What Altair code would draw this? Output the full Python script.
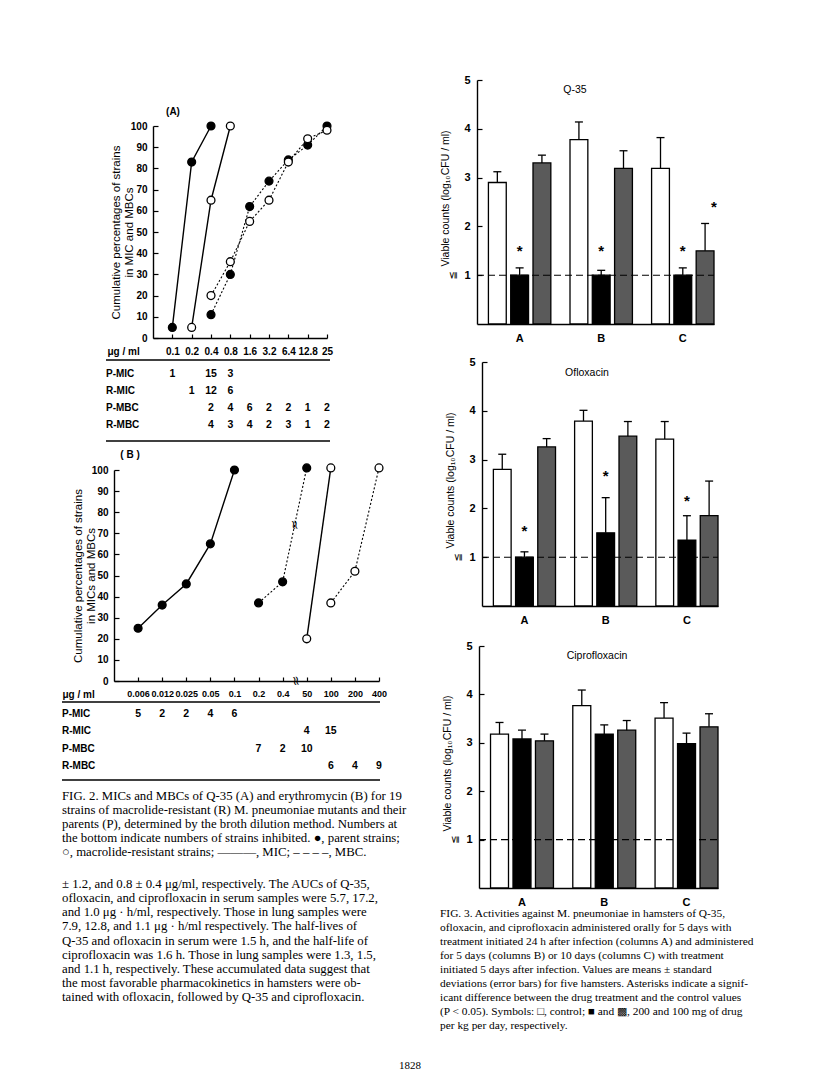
import json
import altair as alt
import pandas as pd

# ---------------- Fig. 2 (A): Q-35 ----------------
A_CONC = ["0.1", "0.2", "0.4", "0.8", "1.6", "3.2", "6.4", "12.8", "25"]
A_PMIC_X = ["0.1", "0.2", "0.4"]
A_PMIC_Y = [5, 83, 100]
A_RMIC_X = ["0.2", "0.4", "0.8"]
A_RMIC_Y = [5, 65, 100]
A_PMBC_X = ["0.4", "0.8", "1.6", "3.2", "6.4", "12.8", "25"]
A_PMBC_Y = [11, 30, 62, 74, 84, 91, 100]
A_RMBC_X = ["0.4", "0.8", "1.6", "3.2", "6.4", "12.8", "25"]
A_RMBC_Y = [20, 36, 55, 65, 83, 94, 98]
TABLE_ROWS = ["P-MIC", "R-MIC", "P-MBC", "R-MBC"]
A_P_MIC = {"0.1": 1, "0.4": 15, "0.8": 3}
A_R_MIC = {"0.2": 1, "0.4": 12, "0.8": 6}
A_P_MBC = {"0.4": 2, "0.8": 4, "1.6": 6, "3.2": 2, "6.4": 2, "12.8": 1, "25": 2}
A_R_MBC = {"0.4": 4, "0.8": 3, "1.6": 4, "3.2": 2, "6.4": 3, "12.8": 1, "25": 2}

# ---------------- Fig. 2 (B): erythromycin ----------------
B_CONC = ["0.006", "0.012", "0.025", "0.05", "0.1", "0.2", "0.4", "50", "100", "200", "400"]
B_PMIC_X = ["0.006", "0.012", "0.025", "0.05", "0.1"]
B_PMIC_Y = [25, 36, 46, 65, 100]
B_PMBC_X = ["0.2", "0.4", "50"]
B_PMBC_Y = [37, 47, 101]
B_RMIC_X = ["50", "100"]
B_RMIC_Y = [20, 101]
B_RMBC_X = ["100", "200", "400"]
B_RMBC_Y = [37, 52, 101]
B_P_MIC = {"0.006": 5, "0.012": 2, "0.025": 2, "0.05": 4, "0.1": 6}
B_R_MIC = {"50": 4, "100": 15}
B_P_MBC = {"0.2": 7, "0.4": 2, "50": 10}
B_R_MBC = {"100": 6, "200": 4, "400": 9}

# ---------------- Fig. 3 ----------------
GROUPS = ["A", "B", "C"]
TREAT = ["control", "200 mg/kg/day", "100 mg/kg/day"]
Q35_MEAN = [[2.90, 1.00, 3.30], [3.78, 1.00, 3.19], [3.19, 1.00, 1.50]]
Q35_UP = [[3.12, 1.15, 3.46], [4.14, 1.10, 3.55], [3.82, 1.15, 2.06]]
Q35_STAR = [("A", "200 mg/kg/day", 1.58), ("B", "200 mg/kg/day", 1.58),
            ("C", "200 mg/kg/day", 1.58), ("C", "100 mg/kg/day", 2.47)]
OFL_MEAN = [[2.80, 1.00, 3.26], [3.79, 1.50, 3.48], [3.42, 1.35, 1.85]]
OFL_UP = [[3.11, 1.11, 3.43], [4.01, 2.22, 3.78], [3.78, 1.85, 2.56]]
OFL_STAR = [("A", "200 mg/kg/day", 1.61), ("B", "200 mg/kg/day", 2.75),
            ("C", "200 mg/kg/day", 2.24)]
CIP_MEAN = [[3.18, 3.08, 3.04], [3.77, 3.18, 3.26], [3.51, 2.98, 3.33]]
CIP_UP = [[3.42, 3.26, 3.18], [4.09, 3.37, 3.46], [3.83, 3.20, 3.60]]
CIP_STAR = []

# ---------------- text ----------------
CAP2 = [
    "\u2003FIG. 2. MICs and MBCs of Q-35 (A) and erythromycin (B) for 19",
    "strains of macrolide-resistant (R) M. pneumoniae mutants and their",
    "parents (P), determined by the broth dilution method. Numbers at",
    "the bottom indicate numbers of strains inhibited. \u25cf, parent strains;",
    "\u25cb, macrolide-resistant strains; \u2014\u2014\u2014, MIC; \u2013 \u2013 \u2013 \u2013, MBC.",
]
BODY = [
    "\u00b1 1.2, and 0.8 \u00b1 0.4 \u03bcg/ml, respectively. The AUCs of Q-35,",
    "ofloxacin, and ciprofloxacin in serum samples were 5.7, 17.2,",
    "and 1.0 \u03bcg \u00b7 h/ml, respectively. Those in lung samples were",
    "7.9, 12.8, and 1.1 \u03bcg \u00b7 h/ml respectively. The half-lives of",
    "Q-35 and ofloxacin in serum were 1.5 h, and the half-life of",
    "ciprofloxacin was 1.6 h. Those in lung samples were 1.3, 1.5,",
    "and 1.1 h, respectively. These accumulated data suggest that",
    "the most favorable pharmacokinetics in hamsters were ob-",
    "tained with ofloxacin, followed by Q-35 and ciprofloxacin.",
]
CAP3 = [
    "\u2003FIG. 3. Activities against M. pneumoniae in hamsters of Q-35,",
    "ofloxacin, and ciprofloxacin administered orally for 5 days with",
    "treatment initiated 24 h after infection (columns A) and administered",
    "for 5 days (columns B) or 10 days (columns C) with treatment",
    "initiated 5 days after infection. Values are means \u00b1 standard",
    "deviations (error bars) for five hamsters. Asterisks indicate a signif-",
    "icant difference between the drug treatment and the control values",
    "(P < 0.05). Symbols: \u25a1, control; \u25a0 and \u25a9, 200 and 100 mg of drug",
    "per kg per day, respectively.",
]
PAGE_NO = "1828"

# ---------------- layout ----------------
W, H = 800, 1073
M = 8
SANS = "'Liberation Sans', Arial, Helvetica, sans-serif"
SERIF = "'Liberation Serif', 'Times New Roman', serif"
FILLS = ["white", "black", "#5a5a5a"]


def px(v):
    return v - M


def py(v):
    return v - M


def q(domain, rng, zero=False):
    return alt.Scale(domain=domain, range=rng, nice=False, zero=zero)


layers = []


def fig2(conc, series, tables, g):
    n = len(conc)
    xs = q([0, n], [px(g["ax"]), px(g["xend"])])
    ys = q([0, 100], [py(g["y0"]), py(g["y100"])])
    rows = []
    for name, cx, cy, kind, fill in series:
        for c, v in zip(cx, cy):
            rows.append(dict(series=name, idx=conc.index(c) + 1, pct=v, kind=kind, fill=fill))
    df = pd.DataFrame(rows)
    label_expr = json.dumps([""] + conc) + "[datum.value]"
    ticks_vals = list(range(1, n + 1))
    x_bottom = alt.Axis(orient="bottom", offset=py(g["y0"]) - H, values=ticks_vals,
                        labelExpr=label_expr, ticks=False, tickSize=0, domain=True,
                        domainColor="black", domainWidth=1.4, labelPadding=8,
                        labelFont=SANS, labelFontSize=g["xfs"], labelFontWeight="bold",
                        labelColor="black", labelFlush=False, labelOverlap=False,
                        title="\u03bcg / ml", titleX=px(g["unit_x"]), titleY=g["unit_y"] - g["y0"],
                        titleAlign="left", titleBaseline="middle", titleAngle=0,
                        titleFont=SANS, titleFontSize=10, titleFontWeight="bold",
                        titleColor="black", grid=False)
    x_top = alt.Axis(orient="top", offset=-py(g["y0"]), values=ticks_vals, ticks=True,
                     tickSize=4, tickColor="black", tickWidth=1.2, labels=False,
                     domain=False, title=None, grid=False)
    yvals = list(range(0, 101, 10))
    y_left = alt.Axis(orient="left", offset=-px(g["ax"]), values=yvals, ticks=False,
                      tickSize=0, domain=True, domainColor="black", domainWidth=1.4,
                      labelPadding=6, labelFont=SANS, labelFontSize=10,
                      labelFontWeight="bold", labelColor="black", labelFlush=False,
                      labelOverlap=False, title=g["ytitle"], titleX=g["title_cx"] - g["ax"],
                      titleBaseline="middle", titleLineHeight=13, titleFont=SANS,
                      titleFontSize=11.5, titleFontWeight="normal", titleColor="black",
                      grid=False)
    y_right = alt.Axis(orient="right", offset=px(g["ax"]) - W, values=yvals, ticks=True,
                       tickSize=5, tickColor="black", tickWidth=1.2, labels=False,
                       domain=False, title=None, grid=False)
    base = alt.Chart(df)
    layers.append(base.transform_filter(alt.datum.kind == "MIC").mark_line(
        color="black", strokeWidth=1.4).encode(
        x=alt.X("idx:Q", scale=xs, axis=x_bottom),
        y=alt.Y("pct:Q", scale=ys, axis=y_left), detail="series:N"))
    layers.append(base.transform_filter(alt.datum.kind == "MBC").mark_line(
        color="black", strokeWidth=1.1, strokeDash=[2, 2]).encode(
        x=alt.X("idx:Q", scale=xs, axis=x_top),
        y=alt.Y("pct:Q", scale=ys, axis=y_right), detail="series:N"))
    for f, col in (("P", "black"), ("R", "white")):
        layers.append(base.transform_filter(alt.datum.fill == f).mark_point(
            shape="circle", filled=True, fill=col, stroke="black", strokeWidth=1.3,
            size=62, opacity=1).encode(
            x=alt.X("idx:Q", scale=xs, axis=None), y=alt.Y("pct:Q", scale=ys, axis=None)))
    # break marks
    if g.get("breaks"):
        bdf = pd.DataFrame(g["breaks"], columns=["idx", "pct"])
        layers.append(alt.Chart(bdf).mark_text(text="\u2248", angle=80, fontSize=13,
                                               font="DejaVu Sans", color="black",
                                               fill="black", baseline="middle").encode(
            x=alt.X("idx:Q", scale=xs, axis=None), y=alt.Y("pct:Q", scale=ys, axis=None)))
    # table of counts
    trows = []
    for r_i, (rname, tab) in enumerate(zip(TABLE_ROWS, tables)):
        for c, cnt in tab.items():
            trows.append(dict(row=r_i, idx=conc.index(c) + 1, count=str(cnt)))
    ty = q([0, 3], [py(g["row_y"][0]), py(g["row_y"][1])])
    layers.append(alt.Chart(pd.DataFrame(trows)).mark_text(
        font=SANS, fontSize=10.5, fontWeight="bold", color="black", baseline="middle").encode(
        x=alt.X("idx:Q", scale=xs, axis=None), y=alt.Y("row:Q", scale=ty, axis=None),
        text="count:N"))
    layers.append(alt.Chart(pd.DataFrame({"row": list(range(4)), "lab": TABLE_ROWS})).mark_text(
        font=SANS, fontSize=10, fontWeight="bold", color="black", baseline="middle",
        align="left").encode(
        x=alt.value(px(g["lab_x"])), y=alt.Y("row:Q", scale=ty, axis=None), text="lab:N"))
    for x0, x1, yy in g["rules"]:
        layers.append(alt.Chart(pd.DataFrame({"k": [0]})).mark_rule(
            color="black", strokeWidth=1.3).encode(
            x=alt.value(px(x0)), x2=alt.value(px(x1)), y=alt.value(py(yy))))
    layers.append(alt.Chart(pd.DataFrame({"t": [g["label"]]})).mark_text(
        font=SANS, fontSize=10, fontWeight="bold", color="black", baseline="middle").encode(
        x=alt.value(px(g["label_xy"][0])), y=alt.value(py(g["label_xy"][1])), text="t:N"))


fig2(A_CONC,
     [("P-MIC", A_PMIC_X, A_PMIC_Y, "MIC", "P"), ("R-MIC", A_RMIC_X, A_RMIC_Y, "MIC", "R"),
      ("P-MBC", A_PMBC_X, A_PMBC_Y, "MBC", "P"), ("R-MBC", A_RMBC_X, A_RMBC_Y, "MBC", "R")],
     [A_P_MIC, A_R_MIC, A_P_MBC, A_R_MBC],
     dict(ax=153, xend=327, y0=338, y100=126, row_y=(374, 425), xfs=10,
          rules=[(106, 330, 360), (106, 330, 441)], lab_x=106, unit_x=107, unit_y=351,
          label="(A)", label_xy=(173, 112),
          ytitle=["Cumulative percentages of strains", "in MIC and MBCs"], title_cx=116))

fig2(B_CONC,
     [("P-MIC", B_PMIC_X, B_PMIC_Y, "MIC", "P"), ("R-MIC", B_RMIC_X, B_RMIC_Y, "MIC", "R"),
      ("P-MBC", B_PMBC_X, B_PMBC_Y, "MBC", "P"), ("R-MBC", B_RMBC_X, B_RMBC_Y, "MBC", "R")],
     [B_P_MIC, B_R_MIC, B_P_MBC, B_R_MBC],
     dict(ax=114, xend=379, y0=681, y100=470, row_y=(714, 766), xfs=9,
          rules=[(62, 380, 702), (62, 380, 780)], lab_x=62, unit_x=62, unit_y=694,
          label="( B )", label_xy=(130, 455), breaks=[(7.5, 74), (7.55, 0)],
          ytitle=["Cumulative percentages of strains", "in MICs and MBCs"], title_cx=78))


def fig3(name, means, ups, stars, g):
    xs = alt.Scale(domain=GROUPS, range=[px(g["ax"]), px(g["xend"])],
                   paddingInner=0.235, paddingOuter=0.07, align=1)
    ys = q([0, 5], [py(g["y0"]), py(g["y5"])], zero=True)
    xo = alt.Scale(domain=TREAT, paddingInner=0.2, paddingOuter=0)
    rows = []
    for gi, grp in enumerate(GROUPS):
        for ti, tr in enumerate(TREAT):
            rows.append(dict(group=grp, treat=tr, mean=means[gi][ti], upper=ups[gi][ti]))
    df = pd.DataFrame(rows)
    x_axis = alt.Axis(orient="bottom", offset=py(g["y0"]) - H, ticks=False, tickSize=0,
                      domain=True, domainColor="black", domainWidth=1.4, labelAngle=0,
                      labelPadding=8, labelFont=SANS, labelFontSize=11,
                      labelFontWeight="bold", labelColor="black", title=None, grid=False)
    y_axis = alt.Axis(orient="left", offset=-px(g["ax"]), values=[1, 2, 3, 4, 5],
                      ticks=False, tickSize=0, domain=True, domainColor="black",
                      domainWidth=1.4, labelPadding=7, labelFont=SANS, labelFontSize=11,
                      labelFontWeight="bold", labelColor="black", labelFlush=False,
                      title="Viable counts (log\u2081\u2080CFU / ml)", titleX=-32,
                      titleY=(g["y0"] + g["y5"]) / 2 - M - 4,
                      titleBaseline="middle", titleFont=SANS, titleFontSize=10.5,
                      titleFontWeight="normal", titleColor="black", grid=False)
    y_ticks = alt.Axis(orient="right", offset=px(g["ax"]) - W, values=[1, 2, 3, 4, 5],
                       ticks=True, tickSize=5, tickColor="black", tickWidth=1.2,
                       labels=False, domain=False, title=None, grid=False)

    def X(ax):
        return alt.X("group:N", scale=xs, axis=ax, sort=GROUPS)

    XO = alt.XOffset("treat:N", scale=xo, sort=TREAT)
    base = alt.Chart(df)
    layers.append(base.mark_bar(stroke="black", strokeWidth=1.3).encode(
        x=X(x_axis), xOffset=XO, y=alt.Y("mean:Q", scale=ys, axis=y_axis),
        y2=alt.datum(0),
        fill=alt.Fill("treat:N", scale=alt.Scale(domain=TREAT, range=FILLS), legend=None)))
    layers.append(base.mark_rule(color="black", strokeWidth=1.3).encode(
        x=X(None), xOffset=XO, y=alt.Y("mean:Q", scale=ys, axis=y_ticks), y2="upper:Q"))
    layers.append(base.mark_tick(orient="horizontal", size=8, thickness=1.3,
                                 color="black", opacity=1).encode(
        x=X(None), xOffset=XO, y=alt.Y("upper:Q", scale=ys, axis=None)))
    layers.append(alt.Chart(pd.DataFrame({"a": [0], "b": [1], "v": [1]})).mark_rule(
        color="black", strokeWidth=1.1, strokeDash=[7, 4]).encode(
        x=alt.X("a:Q", scale=q([0, 1], [px(g["ax"]), px(g["xend"])]), axis=None),
        x2="b:Q", y=alt.Y("v:Q", scale=ys, axis=None)))
    if stars:
        sdf = pd.DataFrame([dict(group=a, treat=b, v=c) for a, b, c in stars])
        layers.append(alt.Chart(sdf).mark_text(
            text="*", font=SANS, fontSize=15, fontWeight="bold", color="black",
            baseline="middle", dy=4).encode(
            x=X(None), xOffset=XO, y=alt.Y("v:Q", scale=ys, axis=None)))
    layers.append(alt.Chart(pd.DataFrame({"v": [1]})).mark_text(
        text="\u2266", font="DejaVu Sans", fontSize=10, color="black", angle=270,
        baseline="middle").encode(
        x=alt.value(px(g["ax"] - 24)), y=alt.Y("v:Q", scale=ys, axis=None)))
    layers.append(alt.Chart(pd.DataFrame({"t": [name]})).mark_text(
        font=SANS, fontSize=10.5, color="black", baseline="middle").encode(
        x=alt.value(px(g["title_xy"][0])), y=alt.value(py(g["title_xy"][1])), text="t:N"))


fig3("Q-35", Q35_MEAN, Q35_UP, Q35_STAR,
     dict(ax=477, xend=714, y0=324, y5=80, title_xy=(575, 90)))
fig3("Ofloxacin", OFL_MEAN, OFL_UP, OFL_STAR,
     dict(ax=482, xend=718, y0=606, y5=362, title_xy=(587, 373)))
fig3("Ciprofloxacin", CIP_MEAN, CIP_UP, CIP_STAR,
     dict(ax=479, xend=718, y0=888, y5=646, title_xy=(597, 656)))


def text_block(lines, x, y_first, y_last, size):
    df = pd.DataFrame({"i": list(range(len(lines))), "t": lines})
    ys = q([0, len(lines) - 1], [py(y_first), py(y_last)])
    layers.append(alt.Chart(df).mark_text(
        align="left", baseline="middle", font=SERIF, fontSize=size, color="black").encode(
        x=alt.value(px(x)), y=alt.Y("i:Q", scale=ys, axis=None), text="t:N"))


text_block(CAP2, 62, 796, 852, 12.8)
text_block(BODY, 62, 884, 997, 12.8)
text_block(CAP3, 440, 914, 1026, 11.4)
layers.append(alt.Chart(pd.DataFrame({"t": [PAGE_NO]})).mark_text(
    font=SERIF, fontSize=11, color="black", baseline="middle").encode(
    x=alt.value(px(410)), y=alt.value(py(1066)), text="t:N"))

chart = alt.layer(*layers).resolve_scale(
    x="independent", y="independent", xOffset="independent"
).properties(
    width=W, height=H, autosize=alt.AutoSizeParams(type="none"), padding=0
).configure_view(stroke=None).configure_axis(grid=False)

chart.save("out.html", embed_options={"renderer": "svg", "actions": False})
